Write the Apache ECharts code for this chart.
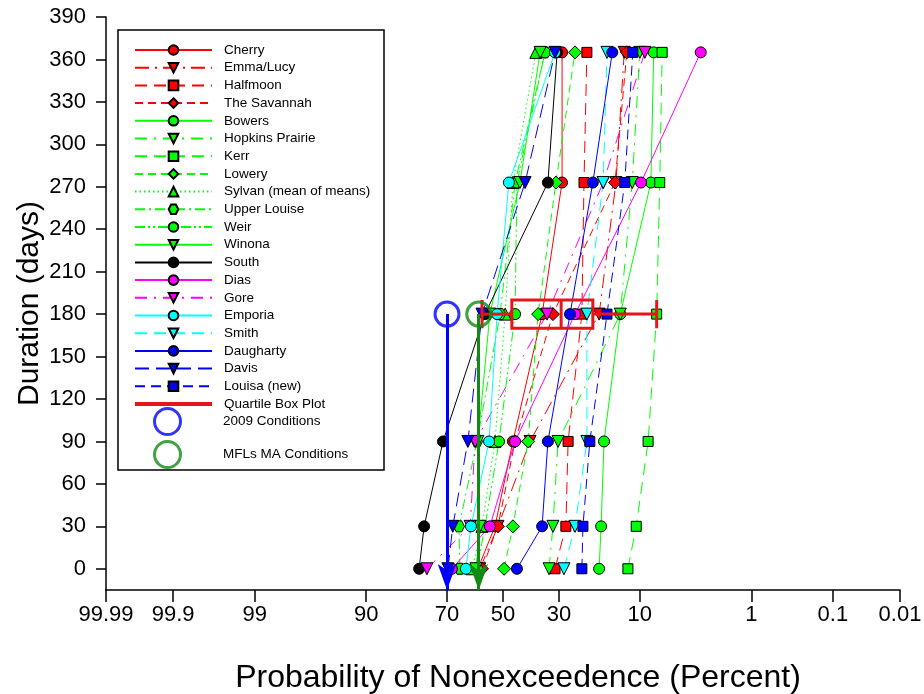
<!DOCTYPE html>
<html>
<head>
<meta charset="utf-8">
<script src="https://cdn.jsdelivr.net/npm/echarts@6/dist/echarts.min.js"></script>
<style>
  html, body { margin: 0; padding: 0; background: #fff; }
  #chart { width: 924px; height: 694px; }
</style>
</head>
<body>
<div id="chart"></div>
<script>
// Durations (days) at which each lake's non-exceedance probability is plotted
const durations = [0, 30, 90, 180, 273, 365];

// Probability of non-exceedence (percent), one value per duration
const cherry        = [59.3, 53.0, 46.3, 35.7, 29.0, 29.0];
const emmaLucy      = [58.6, 51.9, 40.0, 18.4, 14.5, 12.8];
const halfmoon      = [31.3, 27.8, 27.1, 23.0, 22.4, 21.6];
const theSavannah   = [57.8, 51.9, 45.5, 32.0, 14.7, 12.3];
const bowers        = [18.4, 17.9, 17.2, 13.6, 8.3, 7.9];
const hopkinsPrairie= [33.3, 32.0, 30.3, 13.6, 11.3, 10.0];
const kerr          = [12.1, 10.6, 8.7, 7.5, 7.1, 6.8];
const lowery        = [49.6, 46.3, 40.7, 37.1, 31.0, 25.0];
const sylvan        = [61.4, 57.8, 53.0, 49.2, 46.3, 37.9];
const upperLouise   = [65.7, 66.0, 59.6, 51.1, 45.5, 34.7];
const weir          = [59.6, 56.7, 51.5, 45.5, 44.8, 34.7];
const winona        = [60.0, 58.6, 59.3, 54.9, 43.7, 36.4];
const south         = [78.4, 77.0, 71.3, 56.7, 33.7, 30.6];
const dias          = [68.4, 54.9, 45.5, 25.0, 9.8, 3.2];
const gore          = [76.2, 62.1, 60.3, 34.0, 17.4, 9.2];
const emporia       = [63.6, 61.8, 55.2, 52.2, 47.8, 31.3];
const smith         = [28.4, 25.0, 21.6, 21.6, 17.4, 16.5];
const daugharty     = [44.8, 35.7, 33.7, 26.5, 20.0, 15.3];
const davis         = [69.7, 68.1, 62.9, 57.8, 41.8, 31.3];
const louisaNew     = [23.0, 22.7, 20.8, 16.5, 12.7, 11.2];

// Quartile box plot of the 180-day values: min, Q1, median, Q3, max (percent)
const boxStats = [57.8, 46.7, 29.3, 20.0, 7.5];
const boxDuration = 180;

// Reference conditions: [percent, duration]
const cond2009 = [70, 180];
const condMFL  = [59, 180];

// Axis ticks
const probTicks = [99.99, 99.9, 99, 90, 70, 50, 30, 10, 1, 0.1, 0.01];
const durationTicks = [0, 30, 60, 90, 120, 150, 180, 210, 240, 270, 300, 330, 360, 390];

// Inverse standard normal CDF (Acklam) -> probability-paper scale
function probit(pct) {
  const p = pct / 100;
  const a = [-3.969683028665376e+01, 2.209460984245205e+02, -2.759285104469687e+02, 1.383577518672690e+02, -3.066479806614716e+01, 2.506628277459239e+00];
  const b = [-5.447609879822406e+01, 1.615858368580409e+02, -1.556989798598866e+02, 6.680131188771972e+01, -1.328068155288572e+01];
  const c = [-7.784894002430293e-03, -3.223964580411365e-01, -2.400758277161838e+00, -2.549732539343734e+00, 4.374664141464968e+00, 2.938163982698783e+00];
  const d = [7.784695709041462e-03, 3.224671290700398e-01, 2.445134137142996e+00, 3.754408661907416e+00];
  const pl = 0.02425, ph = 1 - pl;
  let q, r;
  if (p < pl) {
    q = Math.sqrt(-2 * Math.log(p));
    return (((((c[0]*q+c[1])*q+c[2])*q+c[3])*q+c[4])*q+c[5]) / ((((d[0]*q+d[1])*q+d[2])*q+d[3])*q+1);
  }
  if (p <= ph) {
    q = p - 0.5; r = q * q;
    return (((((a[0]*r+a[1])*r+a[2])*r+a[3])*r+a[4])*r+a[5])*q / (((((b[0]*r+b[1])*r+b[2])*r+b[3])*r+b[4])*r+1);
  }
  q = Math.sqrt(-2 * Math.log(1 - p));
  return -(((((c[0]*q+c[1])*q+c[2])*q+c[3])*q+c[4])*q+c[5]) / ((((d[0]*q+d[1])*q+d[2])*q+d[3])*q+1);
}

const RED = '#ff0000', GREEN = '#00ff00', BLACK = '#000000', MAGENTA = '#ff00ff', CYAN = '#00ffff', BLUE = '#0000ff';
const DARK_GREEN = '#138a13';
const HEX = 'path://M-1,0 L-0.5,-0.866 L0.5,-0.866 L1,0 L0.5,0.866 L-0.5,0.866 Z';

// Drawing style for each lake
const lakes = [
  { name: 'Cherry',                values: cherry,         color: RED,     symbol: 'circle',   down: false, dash: 'solid' },
  { name: 'Emma/Lucy',             values: emmaLucy,       color: RED,     symbol: 'triangle', down: true,  dash: [14, 6, 2, 6] },
  { name: 'Halfmoon',              values: halfmoon,       color: RED,     symbol: 'rect',     down: false, dash: [12, 7] },
  { name: 'The Savannah',          values: theSavannah,    color: RED,     symbol: 'diamond',  down: false, dash: [8, 5] },
  { name: 'Bowers',                values: bowers,         color: GREEN,   symbol: 'circle',   down: false, dash: 'solid' },
  { name: 'Hopkins Prairie',       values: hopkinsPrairie, color: GREEN,   symbol: 'triangle', down: true,  dash: [12, 7, 2, 7] },
  { name: 'Kerr',                  values: kerr,           color: GREEN,   symbol: 'rect',     down: false, dash: [12, 7] },
  { name: 'Lowery',                values: lowery,         color: GREEN,   symbol: 'diamond',  down: false, dash: [8, 5] },
  { name: 'Sylvan (mean of means)',values: sylvan,         color: GREEN,   symbol: 'triangle', down: false, dash: [1.5, 3] },
  { name: 'Upper Louise',          values: upperLouise,    color: GREEN,   symbol: HEX,        down: false, dash: [10, 4, 2, 4] },
  { name: 'Weir',                  values: weir,           color: GREEN,   symbol: 'circle',   down: false, dash: [10, 3, 2, 3, 2, 3] },
  { name: 'Winona',                values: winona,         color: GREEN,   symbol: 'triangle', down: true,  dash: 'solid' },
  { name: 'South',                 values: south,          color: BLACK,   symbol: 'circle',   down: false, dash: 'solid' },
  { name: 'Dias',                  values: dias,           color: MAGENTA, symbol: 'circle',   down: false, dash: 'solid' },
  { name: 'Gore',                  values: gore,           color: MAGENTA, symbol: 'triangle', down: true,  dash: [12, 7, 2, 7] },
  { name: 'Emporia',               values: emporia,        color: CYAN,    symbol: 'circle',   down: false, dash: 'solid' },
  { name: 'Smith',                 values: smith,          color: CYAN,    symbol: 'triangle', down: true,  dash: [12, 7] },
  { name: 'Daugharty',             values: daugharty,      color: BLUE,    symbol: 'circle',   down: false, dash: 'solid' },
  { name: 'Davis',                 values: davis,          color: BLUE,    symbol: 'triangle', down: true,  dash: [14, 7] },
  { name: 'Louisa (new)',          values: louisaNew,      color: BLUE,    symbol: 'rect',     down: false, dash: [10, 6] }
];

function symbolSizeFor(sym) {
  if (sym === 'rect') return 10;
  if (sym === 'diamond') return 13;
  if (sym === 'triangle') return 12;
  return 11;
}

const lakeSeries = lakes.map(l => ({
  name: l.name,
  type: 'line',
  data: durations.map((d, i) => [probit(l.values[i]), d]),
  symbol: l.symbol,
  symbolSize: symbolSizeFor(l.symbol),
  symbolRotate: l.down ? 180 : 0,
  showAllSymbol: true,
  lineStyle: { color: l.color, width: 1, type: l.dash },
  itemStyle: { color: l.color, borderColor: '#000', borderWidth: 1 },
  emphasis: { disabled: true },
  z: 3
}));

const BOX_RED = '#e8141c';
const boxHalf = 10;

const boxSeries = {
  name: 'Quartile Box Plot',
  type: 'custom',
  color: BOX_RED,
  data: [[...boxStats.map(probit), boxDuration]],
  encode: { x: [0, 1, 2, 3, 4], y: 5 },
  renderItem(params, api) {
    const y = api.value(5);
    const px = [0, 1, 2, 3, 4].map(i => api.coord([api.value(i), y])[0]);
    const yc = api.coord([api.value(0), y])[1];
    const yt = api.coord([api.value(0), y + boxHalf])[1];
    const yb = api.coord([api.value(0), y - boxHalf])[1];
    const st = { stroke: BOX_RED, lineWidth: 3, fill: 'none' };
    return {
      type: 'group',
      children: [
        { type: 'line', shape: { x1: px[0], y1: yc, x2: px[1], y2: yc }, style: st },
        { type: 'line', shape: { x1: px[3], y1: yc, x2: px[4], y2: yc }, style: st },
        { type: 'line', shape: { x1: px[0], y1: yt, x2: px[0], y2: yb }, style: st },
        { type: 'line', shape: { x1: px[4], y1: yt, x2: px[4], y2: yb }, style: st },
        { type: 'rect', shape: { x: px[1], y: yt, width: px[3] - px[1], height: yb - yt }, style: st },
        { type: 'line', shape: { x1: px[2], y1: yt, x2: px[2], y2: yb }, style: st }
      ]
    };
  },
  z: 4
};

const Y_MIN = -15;

function conditionSeries(name, cond, color) {
  const x = probit(cond[0]);
  return {
    name: name,
    type: 'scatter',
    data: [[x, cond[1]]],
    symbol: 'circle',
    symbolSize: 24,
    itemStyle: { color: 'rgba(255,255,255,0)', borderColor: color, borderWidth: 3 },
    emphasis: { disabled: true },
    z: 5,
    markLine: {
      silent: true,
      symbol: ['none', 'arrow'],
      symbolSize: [14, 26],
      label: { show: false },
      lineStyle: { color: color, width: 3, type: 'solid' },
      data: [[{ coord: [x, cond[1]] }, { coord: [x, Y_MIN] }]]
    }
  };
}

const chart = echarts.init(document.getElementById('chart'), null, { renderer: 'canvas' });
const FONT = 'Liberation Sans, Arial, sans-serif';

chart.setOption({
  animation: false,
  backgroundColor: '#fff',
  grid: { left: 106, right: 24, top: 17, bottom: 104, containLabel: false, outerBoundsMode: 'none' },
  xAxis: {
    type: 'value',
    inverse: true,
    min: probit(0.01),
    max: probit(99.99),
    name: 'Probability of Nonexceedence (Percent)',
    nameLocation: 'middle',
    nameGap: 72,
    nameMoveOverlap: false,
    nameTextStyle: { fontFamily: FONT, fontSize: 32, color: '#000', padding: [0, 0, 0, 30] },
    axisLine: { onZero: false, lineStyle: { color: '#000', width: 1.5 } },
    axisTick: { show: true, inside: false, length: 12, lineStyle: { color: '#000', width: 1.5 }, customValues: probTicks.map(probit) },
    axisLabel: {
      fontFamily: FONT, fontSize: 22, color: '#000', margin: 14,
      customValues: probTicks.map(probit),
      formatter: v => {
        let best = 0, bd = Infinity;
        probTicks.forEach((t, i) => { const dd = Math.abs(probit(t) - v); if (dd < bd) { bd = dd; best = i; } });
        return String(probTicks[best]);
      }
    },
    splitLine: { show: false }
  },
  yAxis: {
    type: 'value',
    min: Y_MIN,
    max: 390,
    name: 'Duration (days)',
    nameLocation: 'middle',
    nameGap: 61,
    nameMoveOverlap: false,
    nameTextStyle: { fontFamily: FONT, fontSize: 30, color: '#000' },
    axisLine: { show: true, onZero: false, lineStyle: { color: '#000', width: 1.5 } },
    axisTick: { show: true, inside: false, length: 10, lineStyle: { color: '#000', width: 1.5 }, customValues: durationTicks },
    axisLabel: { fontFamily: FONT, fontSize: 22, color: '#000', margin: 20, customValues: durationTicks },
    splitLine: { show: false }
  },
  legend: [
    {
      orient: 'vertical',
      left: 129,
      top: 38,
      itemWidth: 77,
      itemHeight: 12,
      itemGap: 3.7,
      selectedMode: false,
      textStyle: { fontFamily: FONT, fontSize: 13.5, color: '#000', padding: [0, 0, 0, 7] },
      data: lakes.map(l => l.name).concat([{
        name: 'Quartile Box Plot',
        icon: 'path://M0,0 L77,0 L77,4 L0,4 Z',
        itemStyle: { color: BOX_RED }
      }])
    },
    {
      orient: 'vertical',
      left: 148,
      top: 402,
      itemWidth: 77,
      itemHeight: 26,
      itemGap: 4,
      selectedMode: false,
      textStyle: { fontFamily: FONT, fontSize: 13.5, color: '#000', padding: [0, 0, 0, 12] },
      data: [
        { name: '2009 Conditions', icon: 'circle', itemStyle: { color: 'rgba(255,255,255,0)', borderColor: BLUE, borderWidth: 3 } },
        { name: 'MFLs MA Conditions', icon: 'circle', itemStyle: { color: 'rgba(255,255,255,0)', borderColor: DARK_GREEN, borderWidth: 3 } }
      ]
    }
  ],
  graphic: [{
    type: 'rect',
    shape: { x: 118, y: 30, width: 266, height: 440 },
    style: { fill: 'none', stroke: '#000', lineWidth: 1.5 },
    silent: true,
    z: 10
  }],
  series: [
    conditionSeries('2009 Conditions', cond2009, BLUE),
    conditionSeries('MFLs MA Conditions', condMFL, DARK_GREEN),
    ...lakeSeries,
    boxSeries
  ]
});
</script>
</body>
</html>
